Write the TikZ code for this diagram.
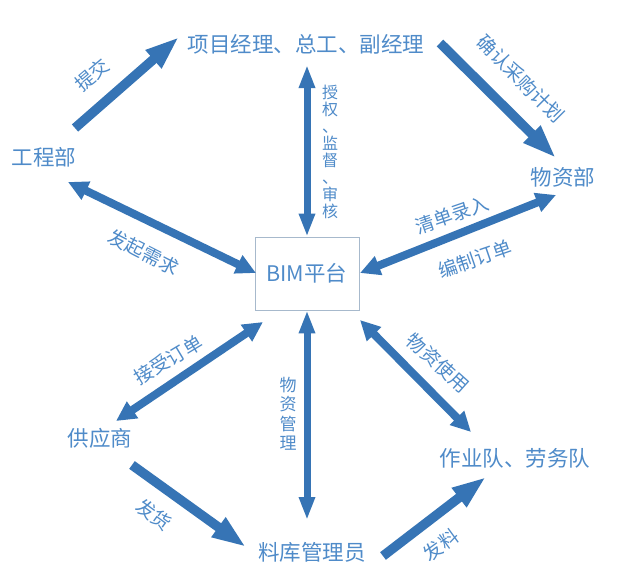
\documentclass[tikz,border=0pt]{standalone}
\usepackage{fontspec}
\newfontfamily\cjk{Noto Sans CJK SC}
\usetikzlibrary{arrows.meta}
\definecolor{arrowblue}{HTML}{3674B5}
\definecolor{textblue}{HTML}{4F8BC9}
\definecolor{boxgray}{HTML}{A7B9CC}
\begin{document}
\begin{tikzpicture}[x=1pt,y=-1pt,
  lbl/.style={text=textblue, font=\cjk\fontsize{21.5}{24}\selectfont, inner sep=1pt},
  elbl/.style={text=textblue, font=\cjk\fontsize{19}{22}\selectfont, inner sep=1pt},
  vlbl/.style={text=textblue, font=\cjk\fontsize{16}{17}\selectfont, inner sep=0pt, align=center},
  bimbox/.style={draw=boxgray, line width=0.8pt, minimum width=104pt, minimum height=73pt, text=textblue, font=\cjk\fontsize{21.5}{24}\selectfont},
  bigarrow/.style={draw=arrowblue, line width=9.5pt, -{Triangle[length=34pt,width=22pt]}},
  dblarrow/.style={draw=arrowblue, line width=8pt, {Triangle[length=20pt,width=19pt]}-{Triangle[length=20pt,width=19pt]}},
  varrow/.style={draw=arrowblue, line width=7pt, {Triangle[length=23pt,width=15pt]}-{Triangle[length=23pt,width=15pt]}}
]
\useasboundingbox[fill=white] (0,0) rectangle (622,581);

% main nodes
\node[lbl] (pm)  at (306,44)  {项目经理、总工、副经理};
\node[lbl] (gcb) at (44,157)  {工程部};
\node[lbl] (wzb) at (563,177) {物资部};
\node[bimbox] (bim) at (307,273.5) {BIM平台};
\node[lbl] (gys) at (100,438) {供应商};
\node[lbl] (zyd) at (515,458) {作业队、劳务队};
\node[lbl] (lk)  at (312,552) {料库管理员};

% arrow end points
\coordinate (t1) at (75,128);  \coordinate (h1) at (179,37);
\coordinate (t2) at (307,65);
\coordinate (t3) at (440,43);  \coordinate (h3) at (556,158);
\coordinate (t4) at (68,182);  \coordinate (h4) at (256,273);
\coordinate (t5) at (556,195); \coordinate (h5) at (360,273);
\coordinate (t6) at (263,322); \coordinate (h6) at (116,421);
\coordinate (t7) at (307,520);
\coordinate (t8) at (360,320); \coordinate (h8) at (471,432);
\coordinate (t9) at (132,465); \coordinate (h9) at (246,547);
\coordinate (t10) at (383,556); \coordinate (h10) at (486,477);

% connectors
\draw[bigarrow] (t1) -- (h1);
\draw[varrow] (t2) -- (bim.north);
\draw[bigarrow] (t3) -- (h3);
\draw[dblarrow] (t4) -- (h4);
\draw[dblarrow] (t5) -- (h5);
\draw[dblarrow] (t6) -- (h6);
\draw[varrow] (bim.south) -- (t7);
\draw[dblarrow] (t8) -- (h8);
\draw[bigarrow] (t9) -- (h9);
\draw[bigarrow] (t10) -- (h10);

% edge labels
\node[elbl, rotate=40]  (l1) at (92,75)   {提交};
\node[vlbl] (l2) at (330,152) {授\\权\\、\\监\\督\\、\\审\\核};
\node[elbl, rotate=-45] (l3) at (521,79)  {确认采购计划};
\node[elbl, rotate=-27] (l4) at (144,252) {发起需求};
\node[elbl, rotate=19]  (l5a) at (452,215) {清单录入};
\node[elbl, rotate=19]  (l5b) at (475,259) {编制订单};
\node[elbl, rotate=31]  (l6) at (168,360) {接受订单};
\node[vlbl, font=\cjk\fontsize{17}{19.5}\selectfont] (l7) at (288,414) {物\\资\\管\\理};
\node[elbl, rotate=-42] (l8) at (438,363) {物资使用};
\node[elbl, rotate=-36] (l9) at (154,515) {发货};
\node[elbl, rotate=36]  (l10) at (441,545) {发料};
\end{tikzpicture}
\end{document}
